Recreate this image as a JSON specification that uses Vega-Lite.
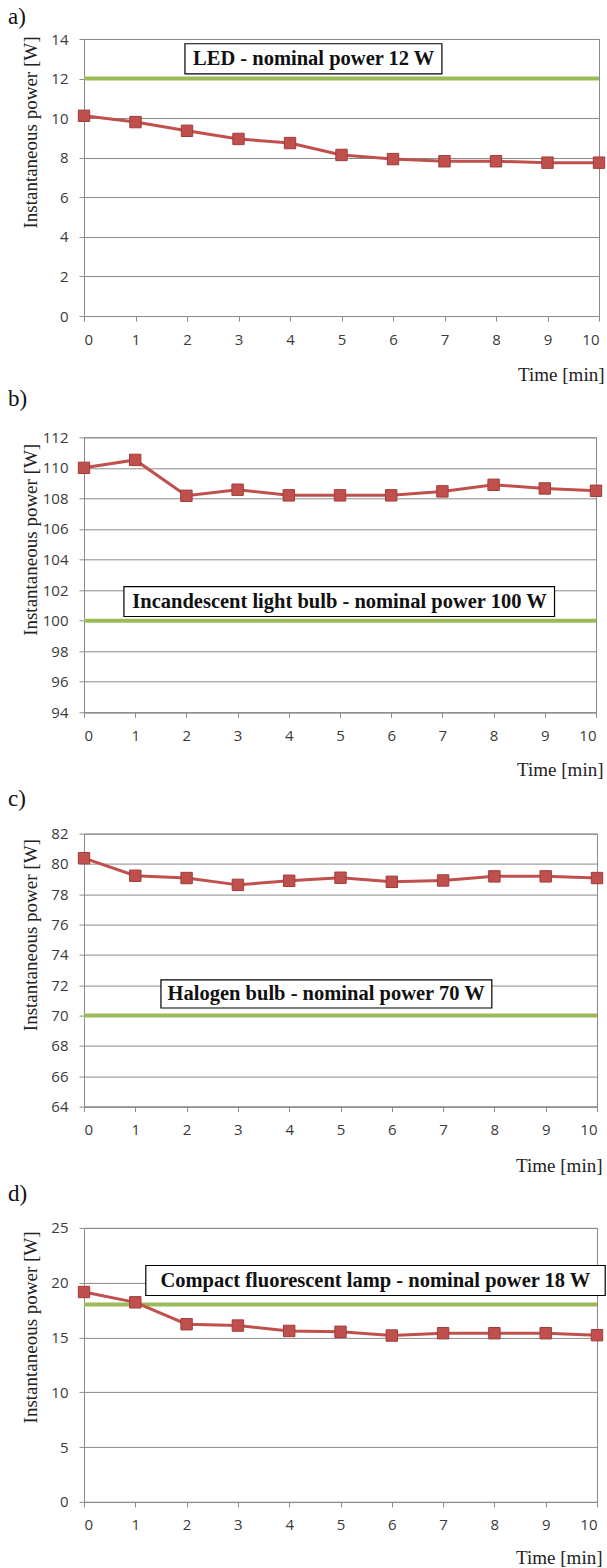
{
  "$schema": "https://vega.github.io/schema/vega-lite/v6.json",
  "background": "white",
  "padding": {"left": 7, "top": 5, "right": 0, "bottom": 0},
  "bounds": "flush",
  "spacing": 121.3,
  "datasets": {
    "series": [
      {"panel": "a", "t": 0, "p": 10.12}, {"panel": "a", "t": 1, "p": 9.8}, {"panel": "a", "t": 2, "p": 9.36}, {"panel": "a", "t": 3, "p": 8.95}, {"panel": "a", "t": 4, "p": 8.74}, {"panel": "a", "t": 5, "p": 8.14}, {"panel": "a", "t": 6, "p": 7.93}, {"panel": "a", "t": 7, "p": 7.82}, {"panel": "a", "t": 8, "p": 7.82}, {"panel": "a", "t": 9, "p": 7.75}, {"panel": "a", "t": 10, "p": 7.75},
      {"panel": "b", "t": 0, "p": 110.0}, {"panel": "b", "t": 1, "p": 110.52}, {"panel": "b", "t": 2, "p": 108.17}, {"panel": "b", "t": 3, "p": 108.57}, {"panel": "b", "t": 4, "p": 108.2}, {"panel": "b", "t": 5, "p": 108.2}, {"panel": "b", "t": 6, "p": 108.2}, {"panel": "b", "t": 7, "p": 108.46}, {"panel": "b", "t": 8, "p": 108.89}, {"panel": "b", "t": 9, "p": 108.65}, {"panel": "b", "t": 10, "p": 108.5},
      {"panel": "c", "t": 0, "p": 80.38}, {"panel": "c", "t": 1, "p": 79.22}, {"panel": "c", "t": 2, "p": 79.07}, {"panel": "c", "t": 3, "p": 78.62}, {"panel": "c", "t": 4, "p": 78.89}, {"panel": "c", "t": 5, "p": 79.09}, {"panel": "c", "t": 6, "p": 78.82}, {"panel": "c", "t": 7, "p": 78.91}, {"panel": "c", "t": 8, "p": 79.18}, {"panel": "c", "t": 9, "p": 79.18}, {"panel": "c", "t": 10, "p": 79.07},
      {"panel": "d", "t": 0, "p": 19.15}, {"panel": "d", "t": 1, "p": 18.21}, {"panel": "d", "t": 2, "p": 16.21}, {"panel": "d", "t": 3, "p": 16.09}, {"panel": "d", "t": 4, "p": 15.6}, {"panel": "d", "t": 5, "p": 15.52}, {"panel": "d", "t": 6, "p": 15.18}, {"panel": "d", "t": 7, "p": 15.39}, {"panel": "d", "t": 8, "p": 15.39}, {"panel": "d", "t": 9, "p": 15.39}, {"panel": "d", "t": 10, "p": 15.21}
    ],
    "nominal": [
      {"panel": "a", "p": 12}, {"panel": "b", "p": 100}, {"panel": "c", "p": 70}, {"panel": "d", "p": 18}
    ],
    "notes": [
      {"panel": "a", "label": "LED - nominal power 12 W", "t1": 1.96, "t2": 6.95, "p1": 12.24, "p2": 13.76, "tm": 4.46, "pm": 13.0},
      {"panel": "b", "label": "Incandescent light bulb - nominal power 100 W", "t1": 0.78, "t2": 9.19, "p1": 100.27, "p2": 102.23, "tm": 4.99, "pm": 101.25},
      {"panel": "c", "label": "Halogen bulb - nominal power 70 W", "t1": 1.5, "t2": 7.95, "p1": 70.5, "p2": 72.36, "tm": 4.72, "pm": 71.43},
      {"panel": "d", "label": "Compact fluorescent lamp - nominal power 18 W", "t1": 1.205, "t2": 10.16, "p1": 18.83, "p2": 21.57, "tm": 5.68, "pm": 20.2}
    ]
  },
  "vconcat": [
    {
      "title": {"text": "a)", "anchor": "start", "frame": "group", "dx": -76, "offset": -14.7, "baseline": "alphabetic", "font": "Liberation Serif", "fontSize": 23, "fontWeight": "normal", "color": "#111111"},
      "width": 515, "height": 277,
      "layer": [
        {"data": {"name": "nominal"}, "transform": [{"filter": "datum.panel === 'a'"}],
         "mark": {"type": "rule", "color": "#9BBB59", "strokeWidth": 4},
         "encoding": {"y": {"field": "p", "type": "quantitative", "title": "Instantaneous power [W]", "scale": {"domain": [0, 14], "nice": false, "zero": false}, "axis": {"values": [0, 2, 4, 6, 8, 10, 12, 14], "titleX": -48, "titleY": -3}}}},
        {"data": {"name": "series"}, "transform": [{"filter": "datum.panel === 'a'"}],
         "mark": {"type": "line", "color": "#C0504D", "strokeWidth": 3},
         "encoding": {"x": {"field": "t", "type": "quantitative", "title": "Time [min]", "scale": {"domain": [0, 10], "nice": false}, "axis": {"values": [0, 1, 2, 3, 4, 5, 6, 7, 8, 9, 10], "titleX": 520, "titleY": 58}}, "y": {"field": "p", "type": "quantitative", "title": "Instantaneous power [W]", "scale": {"domain": [0, 14], "nice": false, "zero": false}, "axis": {"values": [0, 2, 4, 6, 8, 10, 12, 14], "titleX": -48, "titleY": -3}}}},
        {"data": {"name": "series"}, "transform": [{"filter": "datum.panel === 'a'"}],
         "mark": {"type": "point", "shape": "square", "filled": true, "size": 130, "color": "#C0504D", "stroke": "#A03C39", "strokeWidth": 1, "opacity": 1},
         "encoding": {"x": {"field": "t", "type": "quantitative", "title": "Time [min]", "scale": {"domain": [0, 10], "nice": false}, "axis": {"values": [0, 1, 2, 3, 4, 5, 6, 7, 8, 9, 10], "titleX": 520, "titleY": 58}}, "y": {"field": "p", "type": "quantitative", "title": "Instantaneous power [W]", "scale": {"domain": [0, 14], "nice": false, "zero": false}, "axis": {"values": [0, 2, 4, 6, 8, 10, 12, 14], "titleX": -48, "titleY": -3}}}},
        {"data": {"name": "notes"}, "transform": [{"filter": "datum.panel === 'a'"}],
         "mark": {"type": "rect", "fill": "#FFFFFF", "stroke": "#000000", "strokeWidth": 1.2},
         "encoding": {"x": {"field": "t1", "type": "quantitative", "title": "Time [min]", "scale": {"domain": [0, 10], "nice": false}, "axis": {"values": [0, 1, 2, 3, 4, 5, 6, 7, 8, 9, 10], "titleX": 520, "titleY": 58}}, "x2": {"field": "t2"}, "y": {"field": "p1", "type": "quantitative", "title": "Instantaneous power [W]", "scale": {"domain": [0, 14], "nice": false, "zero": false}, "axis": {"values": [0, 2, 4, 6, 8, 10, 12, 14], "titleX": -48, "titleY": -3}}, "y2": {"field": "p2"}}},
        {"data": {"name": "notes"}, "transform": [{"filter": "datum.panel === 'a'"}],
         "mark": {"type": "text", "font": "Liberation Serif", "fontWeight": "bold", "fontSize": 20.5, "color": "#111111", "align": "center", "baseline": "middle"},
         "encoding": {"x": {"field": "tm", "type": "quantitative", "title": "Time [min]", "scale": {"domain": [0, 10], "nice": false}, "axis": {"values": [0, 1, 2, 3, 4, 5, 6, 7, 8, 9, 10], "titleX": 520, "titleY": 58}}, "y": {"field": "pm", "type": "quantitative", "title": "Instantaneous power [W]", "scale": {"domain": [0, 14], "nice": false, "zero": false}, "axis": {"values": [0, 2, 4, 6, 8, 10, 12, 14], "titleX": -48, "titleY": -3}}, "text": {"field": "label"}}}
      ]
    },
    {
      "title": {"text": "b)", "anchor": "start", "frame": "group", "dx": -76, "offset": 1.7, "baseline": "alphabetic", "font": "Liberation Serif", "fontSize": 23, "fontWeight": "normal", "color": "#111111"},
      "width": 512, "height": 275,
      "layer": [
        {"data": {"name": "nominal"}, "transform": [{"filter": "datum.panel === 'b'"}],
         "mark": {"type": "rule", "color": "#9BBB59", "strokeWidth": 4},
         "encoding": {"y": {"field": "p", "type": "quantitative", "title": "Instantaneous power [W]", "scale": {"domain": [94, 112], "nice": false, "zero": false}, "axis": {"values": [94, 96, 98, 100, 102, 104, 106, 108, 110, 112], "titleX": -48, "titleY": 6}}}},
        {"data": {"name": "series"}, "transform": [{"filter": "datum.panel === 'b'"}],
         "mark": {"type": "line", "color": "#C0504D", "strokeWidth": 3},
         "encoding": {"x": {"field": "t", "type": "quantitative", "title": "Time [min]", "scale": {"domain": [0, 10], "nice": false}, "axis": {"values": [0, 1, 2, 3, 4, 5, 6, 7, 8, 9, 10], "titleX": 519, "titleY": 57}}, "y": {"field": "p", "type": "quantitative", "title": "Instantaneous power [W]", "scale": {"domain": [94, 112], "nice": false, "zero": false}, "axis": {"values": [94, 96, 98, 100, 102, 104, 106, 108, 110, 112], "titleX": -48, "titleY": 6}}}},
        {"data": {"name": "series"}, "transform": [{"filter": "datum.panel === 'b'"}],
         "mark": {"type": "point", "shape": "square", "filled": true, "size": 130, "color": "#C0504D", "stroke": "#A03C39", "strokeWidth": 1, "opacity": 1},
         "encoding": {"x": {"field": "t", "type": "quantitative", "title": "Time [min]", "scale": {"domain": [0, 10], "nice": false}, "axis": {"values": [0, 1, 2, 3, 4, 5, 6, 7, 8, 9, 10], "titleX": 519, "titleY": 57}}, "y": {"field": "p", "type": "quantitative", "title": "Instantaneous power [W]", "scale": {"domain": [94, 112], "nice": false, "zero": false}, "axis": {"values": [94, 96, 98, 100, 102, 104, 106, 108, 110, 112], "titleX": -48, "titleY": 6}}}},
        {"data": {"name": "notes"}, "transform": [{"filter": "datum.panel === 'b'"}],
         "mark": {"type": "rect", "fill": "#FFFFFF", "stroke": "#000000", "strokeWidth": 1.2},
         "encoding": {"x": {"field": "t1", "type": "quantitative", "title": "Time [min]", "scale": {"domain": [0, 10], "nice": false}, "axis": {"values": [0, 1, 2, 3, 4, 5, 6, 7, 8, 9, 10], "titleX": 519, "titleY": 57}}, "x2": {"field": "t2"}, "y": {"field": "p1", "type": "quantitative", "title": "Instantaneous power [W]", "scale": {"domain": [94, 112], "nice": false, "zero": false}, "axis": {"values": [94, 96, 98, 100, 102, 104, 106, 108, 110, 112], "titleX": -48, "titleY": 6}}, "y2": {"field": "p2"}}},
        {"data": {"name": "notes"}, "transform": [{"filter": "datum.panel === 'b'"}],
         "mark": {"type": "text", "font": "Liberation Serif", "fontWeight": "bold", "fontSize": 20.5, "color": "#111111", "align": "center", "baseline": "middle"},
         "encoding": {"x": {"field": "tm", "type": "quantitative", "title": "Time [min]", "scale": {"domain": [0, 10], "nice": false}, "axis": {"values": [0, 1, 2, 3, 4, 5, 6, 7, 8, 9, 10], "titleX": 519, "titleY": 57}}, "y": {"field": "pm", "type": "quantitative", "title": "Instantaneous power [W]", "scale": {"domain": [94, 112], "nice": false, "zero": false}, "axis": {"values": [94, 96, 98, 100, 102, 104, 106, 108, 110, 112], "titleX": -48, "titleY": 6}}, "text": {"field": "label"}}}
      ]
    },
    {
      "title": {"text": "c)", "anchor": "start", "frame": "group", "dx": -76, "offset": -2.3, "baseline": "alphabetic", "font": "Liberation Serif", "fontSize": 23, "fontWeight": "normal", "color": "#111111"},
      "width": 513, "height": 273,
      "layer": [
        {"data": {"name": "nominal"}, "transform": [{"filter": "datum.panel === 'c'"}],
         "mark": {"type": "rule", "color": "#9BBB59", "strokeWidth": 4},
         "encoding": {"y": {"field": "p", "type": "quantitative", "title": "Instantaneous power [W]", "scale": {"domain": [64, 82], "nice": false, "zero": false}, "axis": {"values": [64, 66, 68, 70, 72, 74, 76, 78, 80, 82], "titleX": -48, "titleY": 5}}}},
        {"data": {"name": "series"}, "transform": [{"filter": "datum.panel === 'c'"}],
         "mark": {"type": "line", "color": "#C0504D", "strokeWidth": 3},
         "encoding": {"x": {"field": "t", "type": "quantitative", "title": "Time [min]", "scale": {"domain": [0, 10], "nice": false}, "axis": {"values": [0, 1, 2, 3, 4, 5, 6, 7, 8, 9, 10], "titleX": 518, "titleY": 59}}, "y": {"field": "p", "type": "quantitative", "title": "Instantaneous power [W]", "scale": {"domain": [64, 82], "nice": false, "zero": false}, "axis": {"values": [64, 66, 68, 70, 72, 74, 76, 78, 80, 82], "titleX": -48, "titleY": 5}}}},
        {"data": {"name": "series"}, "transform": [{"filter": "datum.panel === 'c'"}],
         "mark": {"type": "point", "shape": "square", "filled": true, "size": 130, "color": "#C0504D", "stroke": "#A03C39", "strokeWidth": 1, "opacity": 1},
         "encoding": {"x": {"field": "t", "type": "quantitative", "title": "Time [min]", "scale": {"domain": [0, 10], "nice": false}, "axis": {"values": [0, 1, 2, 3, 4, 5, 6, 7, 8, 9, 10], "titleX": 518, "titleY": 59}}, "y": {"field": "p", "type": "quantitative", "title": "Instantaneous power [W]", "scale": {"domain": [64, 82], "nice": false, "zero": false}, "axis": {"values": [64, 66, 68, 70, 72, 74, 76, 78, 80, 82], "titleX": -48, "titleY": 5}}}},
        {"data": {"name": "notes"}, "transform": [{"filter": "datum.panel === 'c'"}],
         "mark": {"type": "rect", "fill": "#FFFFFF", "stroke": "#000000", "strokeWidth": 1.2},
         "encoding": {"x": {"field": "t1", "type": "quantitative", "title": "Time [min]", "scale": {"domain": [0, 10], "nice": false}, "axis": {"values": [0, 1, 2, 3, 4, 5, 6, 7, 8, 9, 10], "titleX": 518, "titleY": 59}}, "x2": {"field": "t2"}, "y": {"field": "p1", "type": "quantitative", "title": "Instantaneous power [W]", "scale": {"domain": [64, 82], "nice": false, "zero": false}, "axis": {"values": [64, 66, 68, 70, 72, 74, 76, 78, 80, 82], "titleX": -48, "titleY": 5}}, "y2": {"field": "p2"}}},
        {"data": {"name": "notes"}, "transform": [{"filter": "datum.panel === 'c'"}],
         "mark": {"type": "text", "font": "Liberation Serif", "fontWeight": "bold", "fontSize": 20.5, "color": "#111111", "align": "center", "baseline": "middle"},
         "encoding": {"x": {"field": "tm", "type": "quantitative", "title": "Time [min]", "scale": {"domain": [0, 10], "nice": false}, "axis": {"values": [0, 1, 2, 3, 4, 5, 6, 7, 8, 9, 10], "titleX": 518, "titleY": 59}}, "y": {"field": "pm", "type": "quantitative", "title": "Instantaneous power [W]", "scale": {"domain": [64, 82], "nice": false, "zero": false}, "axis": {"values": [64, 66, 68, 70, 72, 74, 76, 78, 80, 82], "titleX": -48, "titleY": 5}}, "text": {"field": "label"}}}
      ]
    },
    {
      "title": {"text": "d)", "anchor": "start", "frame": "group", "dx": -76, "offset": -3, "baseline": "alphabetic", "font": "Liberation Serif", "fontSize": 23, "fontWeight": "normal", "color": "#111111"},
      "width": 513, "height": 274,
      "layer": [
        {"data": {"name": "nominal"}, "transform": [{"filter": "datum.panel === 'd'"}],
         "mark": {"type": "rule", "color": "#9BBB59", "strokeWidth": 4},
         "encoding": {"y": {"field": "p", "type": "quantitative", "title": "Instantaneous power [W]", "scale": {"domain": [0, 25], "nice": false, "zero": false}, "axis": {"values": [0, 5, 10, 15, 20, 25], "titleX": -48, "titleY": 3}}}},
        {"data": {"name": "series"}, "transform": [{"filter": "datum.panel === 'd'"}],
         "mark": {"type": "line", "color": "#C0504D", "strokeWidth": 3},
         "encoding": {"x": {"field": "t", "type": "quantitative", "title": "Time [min]", "scale": {"domain": [0, 10], "nice": false}, "axis": {"values": [0, 1, 2, 3, 4, 5, 6, 7, 8, 9, 10], "titleX": 518, "titleY": 56}}, "y": {"field": "p", "type": "quantitative", "title": "Instantaneous power [W]", "scale": {"domain": [0, 25], "nice": false, "zero": false}, "axis": {"values": [0, 5, 10, 15, 20, 25], "titleX": -48, "titleY": 3}}}},
        {"data": {"name": "series"}, "transform": [{"filter": "datum.panel === 'd'"}],
         "mark": {"type": "point", "shape": "square", "filled": true, "size": 130, "color": "#C0504D", "stroke": "#A03C39", "strokeWidth": 1, "opacity": 1},
         "encoding": {"x": {"field": "t", "type": "quantitative", "title": "Time [min]", "scale": {"domain": [0, 10], "nice": false}, "axis": {"values": [0, 1, 2, 3, 4, 5, 6, 7, 8, 9, 10], "titleX": 518, "titleY": 56}}, "y": {"field": "p", "type": "quantitative", "title": "Instantaneous power [W]", "scale": {"domain": [0, 25], "nice": false, "zero": false}, "axis": {"values": [0, 5, 10, 15, 20, 25], "titleX": -48, "titleY": 3}}}},
        {"data": {"name": "notes"}, "transform": [{"filter": "datum.panel === 'd'"}],
         "mark": {"type": "rect", "fill": "#FFFFFF", "stroke": "#000000", "strokeWidth": 1.2},
         "encoding": {"x": {"field": "t1", "type": "quantitative", "title": "Time [min]", "scale": {"domain": [0, 10], "nice": false}, "axis": {"values": [0, 1, 2, 3, 4, 5, 6, 7, 8, 9, 10], "titleX": 518, "titleY": 56}}, "x2": {"field": "t2"}, "y": {"field": "p1", "type": "quantitative", "title": "Instantaneous power [W]", "scale": {"domain": [0, 25], "nice": false, "zero": false}, "axis": {"values": [0, 5, 10, 15, 20, 25], "titleX": -48, "titleY": 3}}, "y2": {"field": "p2"}}},
        {"data": {"name": "notes"}, "transform": [{"filter": "datum.panel === 'd'"}],
         "mark": {"type": "text", "font": "Liberation Serif", "fontWeight": "bold", "fontSize": 20.5, "color": "#111111", "align": "center", "baseline": "middle"},
         "encoding": {"x": {"field": "tm", "type": "quantitative", "title": "Time [min]", "scale": {"domain": [0, 10], "nice": false}, "axis": {"values": [0, 1, 2, 3, 4, 5, 6, 7, 8, 9, 10], "titleX": 518, "titleY": 56}}, "y": {"field": "pm", "type": "quantitative", "title": "Instantaneous power [W]", "scale": {"domain": [0, 25], "nice": false, "zero": false}, "axis": {"values": [0, 5, 10, 15, 20, 25], "titleX": -48, "titleY": 3}}, "text": {"field": "label"}}}
      ]
    }
  ],
  "config": {
    "view": {"stroke": "#8a8a8a", "strokeWidth": 1},
    "axis": {
      "labelFont": "Open Sans", "labelFontSize": 15, "labelColor": "#3a3a3a", "labelOverlap": false,
      "titleFont": "Liberation Serif", "titleFontSize": 19, "titleFontWeight": "normal", "titleColor": "#222222",
      "domainColor": "#8a8a8a", "tickColor": "#8a8a8a", "tickSize": 5, "labelPadding": 11,
      "gridColor": "#8a8a8a", "gridOpacity": 1, "gridWidth": 1
    },
    "axisX": {"grid": false, "titleAlign": "right", "titleBaseline": "middle", "labelAngle": 0},
    "axisY": {"grid": true, "titleAngle": -90, "titleAlign": "right", "titleBaseline": "alphabetic"}
  }
}
